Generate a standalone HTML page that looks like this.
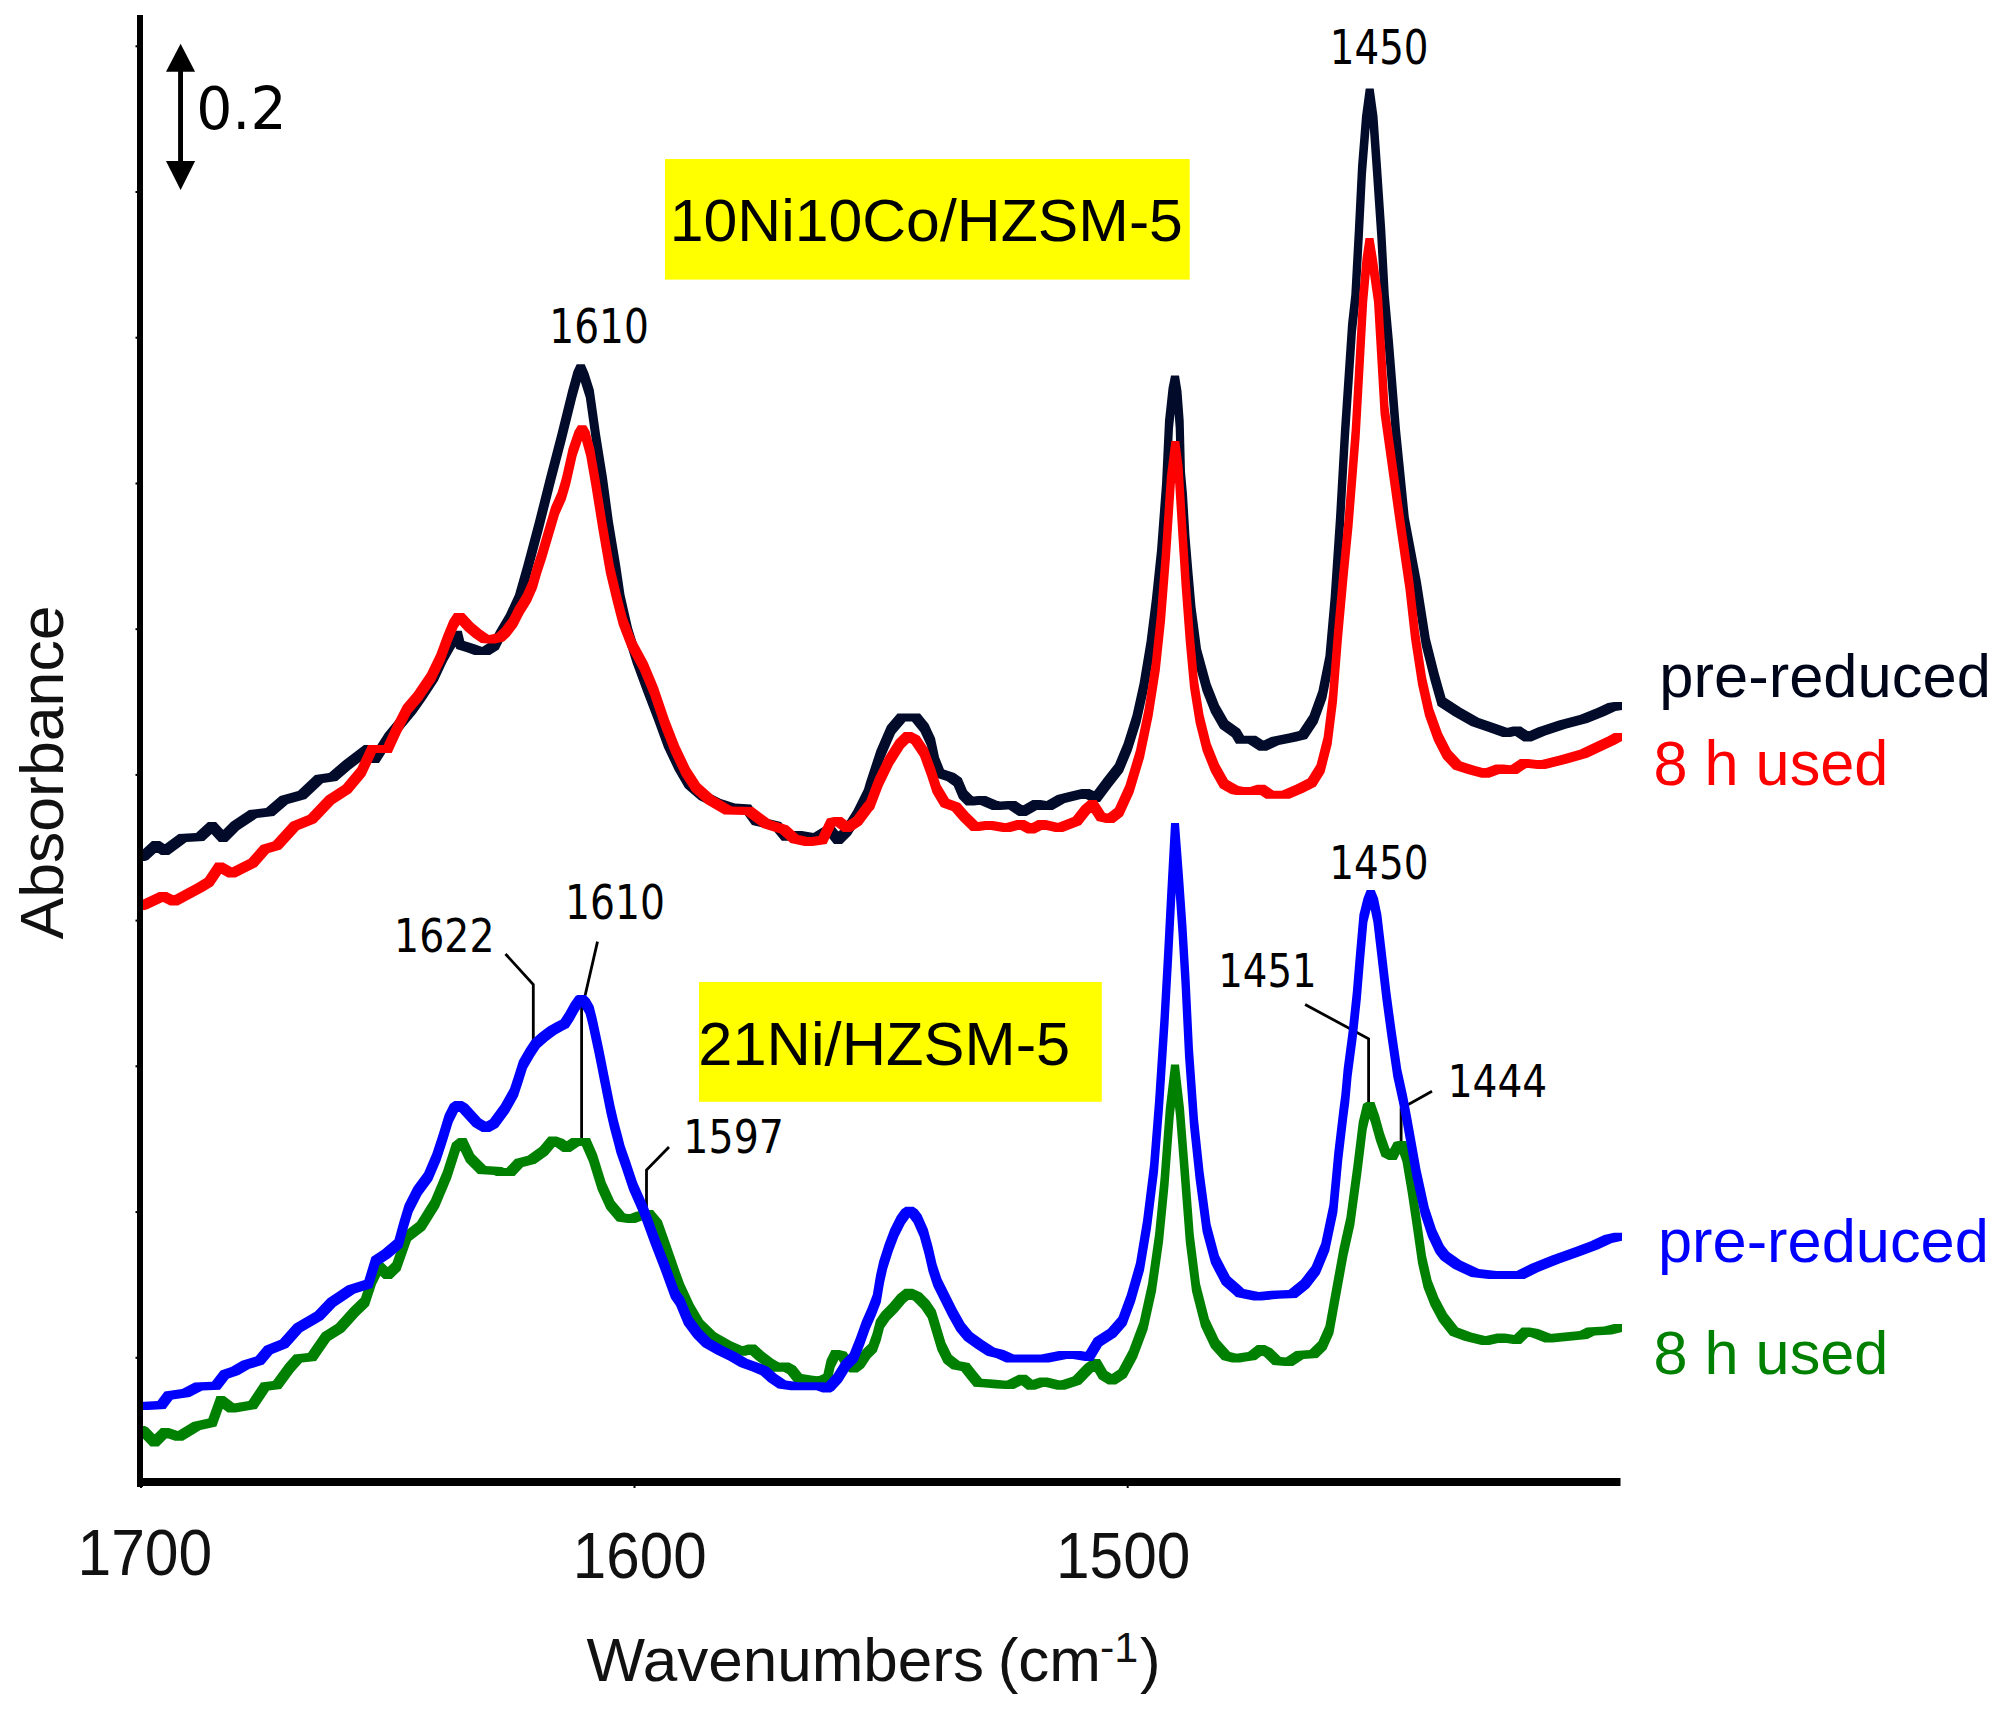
<!DOCTYPE html>
<html><head><meta charset="utf-8"><title>FTIR spectra</title>
<style>html,body{margin:0;padding:0;background:#fff}body{width:2008px;height:1711px;overflow:hidden}</style>
</head><body>
<svg width="2008" height="1711" viewBox="0 0 2008 1711" style="display:block">
<rect width="2008" height="1711" fill="#fff"/>
<rect x="665" y="159" width="524.7" height="120.6" fill="#ffff00"/>
<rect x="699" y="982" width="402.8" height="119.8" fill="#ffff00"/>
<polyline points="505.5,954 533.3,984.5 533.3,1042" fill="none" stroke="#000" stroke-width="2.8"/>
<polyline points="597.5,941.6 585.1,995.5" fill="none" stroke="#000" stroke-width="2.8"/>
<polyline points="581.6,1000 581.6,1140" fill="none" stroke="#000" stroke-width="2.8"/>
<polyline points="669,1147 646.5,1170 646.5,1212" fill="none" stroke="#000" stroke-width="2.8"/>
<polyline points="1305.1,1004.5 1368.6,1038.8 1368.6,1103" fill="none" stroke="#000" stroke-width="2.8"/>
<polyline points="1432,1091.3 1401.1,1108.5 1401.1,1142" fill="none" stroke="#000" stroke-width="2.8"/>
<path d="M137,853 140,852 148,852 148,860 145,861 137,861ZM140,852 152,841 160,841 160,849 148,860 140,860ZM152,841 160,841 169,847 169,855 161,855 152,849ZM161,847 178.6,834 186.6,834 186.6,842 169,855 161,855ZM178.6,834 196,833 204,833 204,841 186.6,842 178.6,842ZM196,833 208,822 216,822 216,830 204,841 196,841ZM208,822 216,822 227,834 227,842 219,842 208,830ZM219,834 231,822 239,822 239,830 227,842 219,842ZM231,822 249,810 257,810 257,818 239,830 231,830ZM249,810 266,808 274,808 274,816 257,818 249,818ZM266,808 280,796 288,796 288,804 274,816 266,816ZM280,796 298,791 306,791 306,799 288,804 280,804ZM298,791 315,775 323,775 323,783 306,799 298,799ZM315,775 329,773 337,773 337,781 323,783 315,783ZM329,773 343,761 351,761 351,769 337,781 329,781ZM343,761 364,745 372,745 372,753 351,769 343,769ZM364,745 372,745 379,755 379,763 371,763 364,753ZM371,755 385,733 393,733 393,741 379,763 371,763ZM385,733 408,705.3 416,705.3 416,713.3 393,741 385,741ZM408,705.3 417,692.4 425,692.4 425,700.4 416,713.3 408,713.3ZM417,692.4 429.8,673.1 437.8,673.1 437.8,681.1 425,700.4 417,700.4ZM429.8,673.1 438.8,653.8 446.8,653.8 446.8,661.8 437.8,681.1 429.8,681.1ZM438.8,653.8 446,641 454,641 454,649 446.8,661.8 438.8,661.8ZM446,641 453.8,630.8 461.8,630.8 461.8,638.8 454,649 446,649ZM453.8,630.8 461.8,630.8 464.3,641 464.3,649 456.3,649 453.8,638.8ZM456.3,641 464.3,641 474,643.9 474,651.9 466,651.9 456.3,649ZM466,643.9 474,643.9 482.3,647 482.3,655 474.3,655 466,651.9ZM474.3,647 490,647 490,655 474.3,655ZM482,647 490.7,641.5 498.7,641.5 498.7,649.5 490,655 482,655ZM490.7,641.5 496,631 504,631 504,639 498.7,649.5 490.7,649.5ZM496,631 506,614 514,614 514,622 504,639 496,639ZM506,614 515,594.4 523,594.4 523,602.4 514,622 506,622ZM515,594.4 523.3,565.2 531.3,565.2 531.3,573.2 523,602.4 515,602.4ZM523.3,565.2 535,521.3 543,521.3 543,529.3 531.3,573.2 523.3,573.2ZM535,521.3 546,477.5 554,477.5 554,485.5 543,529.3 535,529.3ZM546,477.5 557.4,433.7 565.4,433.7 565.4,441.7 554,485.5 546,485.5ZM557.4,433.7 568.3,389.8 576.3,389.8 576.3,397.8 565.4,441.7 557.4,441.7ZM568.3,389.8 573.5,371 581.5,371 581.5,379 576.3,397.8 568.3,397.8ZM573.5,371 576.7,364.2 584.7,364.2 584.7,372.2 581.5,379 573.5,379ZM576.7,364.2 584.7,364.2 588.5,373 588.5,381 580.5,381 576.7,372.2ZM580.5,373 588.5,373 593.8,389.8 593.8,397.8 585.8,397.8 580.5,381ZM585.8,389.8 593.8,389.8 600,433.7 600,441.7 592,441.7 585.8,397.8ZM592,433.7 600,433.7 607,477.5 607,485.5 599,485.5 592,441.7ZM599,477.5 607,477.5 612.9,521.3 612.9,529.3 604.9,529.3 599,485.5ZM604.9,521.3 612.9,521.3 620.2,565.2 620.2,573.2 612.2,573.2 604.9,529.3ZM612.2,565.2 620.2,565.2 624.5,594.4 624.5,602.4 616.5,602.4 612.2,573.2ZM616.5,594.4 624.5,594.4 632,627.5 632,635.5 624,635.5 616.5,602.4ZM624,627.5 632,627.5 640.7,655.6 640.7,663.6 632.7,663.6 624,635.5ZM632.7,655.6 640.7,655.6 651,683.6 651,691.6 643,691.6 632.7,663.6ZM643,683.6 651,683.6 661.8,711.7 661.8,719.7 653.8,719.7 643,691.6ZM653.8,711.7 661.8,711.7 672,739.7 672,747.7 664,747.7 653.8,719.7ZM664,739.7 672,739.7 682.8,762.5 682.8,770.5 674.8,770.5 664,747.7ZM674.8,762.5 682.8,762.5 693,780 693,788 685,788 674.8,770.5ZM685,780 693,780 707,792 707,800 699,800 685,788ZM699,792 707,792 721,799 721,807 713,807 699,800ZM713,799 721,799 735,803.5 735,811.5 727,811.5 713,807ZM727,803.5 735,803.5 751,804.6 751,812.6 743,812.6 727,811.5ZM743,804.6 751,804.6 760,817 760,825 752,825 743,812.6ZM752,817 760,817 781,822 781,830 773,830 752,825ZM773,822 781,822 789.8,832.7 789.8,840.7 781.8,840.7 773,830ZM781.8,832.7 794,831 802,831 802,839 789.8,840.7 781.8,840.7ZM794,831 802,831 819.6,834 819.6,842 811.6,842 794,839ZM811.6,834 825.6,825.6 833.6,825.6 833.6,833.6 819.6,842 811.6,842ZM825.6,825.6 833.6,825.6 842,836 842,844 834,844 825.6,833.6ZM834,836 843,827 851,827 851,835 842,844 834,844ZM843,827 853.6,810 861.6,810 861.6,818 851,835 843,835ZM853.6,810 864,789 872,789 872,797 861.6,818 853.6,818ZM864,789 866,782 874,782 874,790 872,797 864,797ZM866,782 876.5,750 884.5,750 884.5,758 874,790 866,790ZM876.5,750 887,725.7 895,725.7 895,733.7 884.5,758 876.5,758ZM887,725.7 897.5,713.5 905.5,713.5 905.5,721.5 895,733.7 887,733.7ZM897.5,713.5 920,713.5 920,721.5 897.5,721.5ZM912,713.5 920,713.5 928.5,724 928.5,732 920.5,732 912,721.5ZM920.5,724 928.5,724 935,738 935,746 927,746 920.5,732ZM927,738 935,738 939,757 939,765 931,765 927,746ZM931,757 939,757 944,769.5 944,777.5 936,777.5 931,765ZM936,769.5 944,769.5 954.6,773 954.6,781 946.6,781 936,777.5ZM946.6,773 954.6,773 961.7,778 961.7,786 953.7,786 946.6,781ZM953.7,778 961.7,778 967,790.6 967,798.6 959,798.6 953.7,786ZM959,790.6 967,790.6 974,797.6 974,805.6 966,805.6 959,798.6ZM966,797.6 978,796 986,796 986,804 974,805.6 966,805.6ZM978,796 986,796 1000,802 1000,810 992,810 978,804ZM992,802 1008,801 1016,801 1016,809 1000,810 992,810ZM1008,801 1016,801 1026.5,808 1026.5,816 1018.5,816 1008,809ZM1018.5,808 1032.5,800 1040.5,800 1040.5,808 1026.5,816 1018.5,816ZM1032.5,800 1040.5,800 1052.8,802 1052.8,810 1044.8,810 1032.5,808ZM1044.8,802 1057,795 1065,795 1065,803 1052.8,810 1044.8,810ZM1057,795 1069,792 1077,792 1077,800 1065,803 1057,803ZM1069,792 1081.6,789 1089.6,789 1089.6,797 1077,800 1069,800ZM1081.6,789 1089.6,789 1100,794 1100,802 1092,802 1081.6,797ZM1092,794 1104,778 1112,778 1112,786 1100,802 1092,802ZM1104,778 1115,764 1123,764 1123,772 1112,786 1104,786ZM1115,764 1123.7,743 1131.7,743 1131.7,751 1123,772 1115,772ZM1123.7,743 1132.5,715 1140.5,715 1140.5,723 1131.7,751 1123.7,751ZM1132.5,715 1139.5,683.6 1147.5,683.6 1147.5,691.6 1140.5,723 1132.5,723ZM1139.5,683.6 1146.5,641.6 1154.5,641.6 1154.5,649.6 1147.5,691.6 1139.5,691.6ZM1146.5,641.6 1151.8,599.5 1159.8,599.5 1159.8,607.5 1154.5,649.6 1146.5,649.6ZM1151.8,599.5 1157,550 1165,550 1165,558 1159.8,607.5 1151.8,607.5ZM1157,550 1162,483.8 1170,483.8 1170,491.8 1165,558 1157,558ZM1162,483.8 1165,420.3 1173,420.3 1173,428.3 1170,491.8 1162,491.8ZM1165,420.3 1168.5,388 1176.5,388 1176.5,396 1173,428.3 1165,428.3ZM1168.5,388 1171,375.5 1179,375.5 1179,383.5 1176.5,396 1168.5,396ZM1171,375.5 1179,375.5 1181.5,391 1181.5,399 1173.5,399 1171,383.5ZM1173.5,391 1181.5,391 1183.7,420.3 1183.7,428.3 1175.7,428.3 1173.5,399ZM1175.7,420.3 1183.7,420.3 1185,471.7 1185,479.7 1177,479.7 1175.7,428.3ZM1177,471.7 1185,471.7 1187,494 1187,502 1179,502 1177,479.7ZM1179,494 1187,494 1189.5,536 1189.5,544 1181.5,544 1179,502ZM1181.5,536 1189.5,536 1192.7,574.6 1192.7,582.6 1184.7,582.6 1181.5,544ZM1184.7,574.6 1192.7,574.6 1195.5,606.5 1195.5,614.5 1187.5,614.5 1184.7,582.6ZM1187.5,606.5 1195.5,606.5 1201,648.6 1201,656.6 1193,656.6 1187.5,614.5ZM1193,648.6 1201,648.6 1210.6,683.6 1210.6,691.6 1202.6,691.6 1193,656.6ZM1202.6,683.6 1210.6,683.6 1219,704.7 1219,712.7 1211,712.7 1202.6,691.6ZM1211,704.7 1219,704.7 1228,720.5 1228,728.5 1220,728.5 1211,712.7ZM1220,720.5 1228,720.5 1240,729 1240,737 1232,737 1220,728.5ZM1232,729 1240,729 1244,735.7 1244,743.7 1236,743.7 1232,737ZM1236,735.7 1256,735.7 1256,743.7 1236,743.7ZM1248,735.7 1256,735.7 1266.8,742.7 1266.8,750.7 1258.8,750.7 1248,743.7ZM1258.8,742.7 1271,737 1279,737 1279,745 1266.8,750.7 1258.8,750.7ZM1271,737 1288.6,733.6 1296.6,733.6 1296.6,741.6 1279,745 1271,745ZM1288.6,733.6 1299,731 1307,731 1307,739 1296.6,741.6 1288.6,741.6ZM1299,731 1309.6,715 1317.6,715 1317.6,723 1307,739 1299,739ZM1309.6,715 1318.4,690.8 1326.4,690.8 1326.4,698.8 1317.6,723 1309.6,723ZM1318.4,690.8 1325.4,655.7 1333.4,655.7 1333.4,663.7 1326.4,698.8 1318.4,698.8ZM1325.4,655.7 1330.7,596 1338.7,596 1338.7,604 1333.4,663.7 1325.4,663.7ZM1330.7,596 1336,517 1344,517 1344,525 1338.7,604 1330.7,604ZM1336,517 1341,429 1349,429 1349,437 1344,525 1336,525ZM1341,429 1348,324 1356,324 1356,332 1349,437 1341,437ZM1348,324 1351.3,294.6 1359.3,294.6 1359.3,302.6 1356,332 1348,332ZM1351.3,294.6 1354.8,230 1362.8,230 1362.8,238 1359.3,302.6 1351.3,302.6ZM1354.8,230 1358,166 1366,166 1366,174 1362.8,238 1354.8,238ZM1358,166 1362,116 1370,116 1370,124 1366,174 1358,174ZM1362,116 1365.7,88.5 1373.7,88.5 1373.7,96.5 1370,124 1362,124ZM1365.7,88.5 1373.7,88.5 1377.5,116 1377.5,124 1369.5,124 1365.7,96.5ZM1369.5,116 1377.5,116 1381,166 1381,174 1373,174 1369.5,124ZM1373,166 1381,166 1385.3,230 1385.3,238 1377.3,238 1373,174ZM1377.3,230 1385.3,230 1388.8,294.6 1388.8,302.6 1380.8,302.6 1377.3,238ZM1380.8,294.6 1388.8,294.6 1393,341.6 1393,349.6 1385,349.6 1380.8,302.6ZM1385,341.6 1393,341.6 1400,429 1400,437 1392,437 1385,349.6ZM1392,429 1400,429 1408.8,517 1408.8,525 1400.8,525 1392,437ZM1400.8,517 1408.8,517 1421,582 1421,590 1413,590 1400.8,525ZM1413,582 1421,582 1429.8,638 1429.8,646 1421.8,646 1413,590ZM1421.8,638 1429.8,638 1438.6,673 1438.6,681 1430.6,681 1421.8,646ZM1430.6,673 1438.6,673 1445.6,697.8 1445.6,705.8 1437.6,705.8 1430.6,681ZM1437.6,697.8 1445.6,697.8 1461.4,708 1461.4,716 1453.4,716 1437.6,705.8ZM1453.4,708 1461.4,708 1479,718 1479,726 1471,726 1453.4,716ZM1471,718 1479,718 1496.5,724 1496.5,732 1488.5,732 1471,726ZM1488.5,724 1496.5,724 1510.5,729 1510.5,737 1502.5,737 1488.5,732ZM1502.5,729 1513,726.5 1521,726.5 1521,734.5 1510.5,737 1502.5,737ZM1513,726.5 1521,726.5 1531.5,733.6 1531.5,741.6 1523.5,741.6 1513,734.5ZM1523.5,733.6 1537.5,727.6 1545.5,727.6 1545.5,735.6 1531.5,741.6 1523.5,741.6ZM1537.5,727.6 1558.6,720.6 1566.6,720.6 1566.6,728.6 1545.5,735.6 1537.5,735.6ZM1558.6,720.6 1579.6,715 1587.6,715 1587.6,723 1566.6,728.6 1558.6,728.6ZM1579.6,715 1597,708 1605,708 1605,716 1587.6,723 1579.6,723ZM1597,708 1607.7,703 1615.7,703 1615.7,711 1605,716 1597,716ZM1607.7,703 1614,702 1622,702 1622,710 1615.7,711 1607.7,711Z" fill="#020c2a"/>
<path d="M137,902 140,901 148,901 148,909 145,910 137,910ZM140,901 159,892 167,892 167,900 148,909 140,909ZM159,892 167,892 178,897.5 178,905.5 170,905.5 159,900ZM170,897.5 196,883.5 204,883.5 204,891.5 178,905.5 170,905.5ZM196,883.5 205,878 213,878 213,886 204,891.5 196,891.5ZM205,878 215.4,862.5 223.4,862.5 223.4,870.5 213,886 205,886ZM215.4,862.5 223.4,862.5 235.7,869.5 235.7,877.5 227.7,877.5 215.4,870.5ZM227.7,869.5 248.7,859 256.7,859 256.7,867 235.7,877.5 227.7,877.5ZM248.7,859 261,845 269,845 269,853 256.7,867 248.7,867ZM261,845 273,841.5 281,841.5 281,849.5 269,853 261,853ZM273,841.5 290.8,822 298.8,822 298.8,830 281,849.5 273,849.5ZM290.8,822 308,815 316,815 316,823 298.8,830 290.8,830ZM308,815 326,796 334,796 334,804 316,823 308,823ZM326,796 343,785 351,785 351,793 334,804 326,804ZM343,785 357.4,767.8 365.4,767.8 365.4,775.8 351,793 343,793ZM357.4,767.8 368,745 376,745 376,753 365.4,775.8 357.4,775.8ZM368,745 391.7,745 391.7,753 368,753ZM383.7,745 392.5,725.7 400.5,725.7 400.5,733.7 391.7,753 383.7,753ZM392.5,725.7 403,705.3 411,705.3 411,713.3 400.5,733.7 392.5,733.7ZM403,705.3 413.9,692.4 421.9,692.4 421.9,700.4 411,713.3 403,713.3ZM413.9,692.4 427.1,673.1 435.1,673.1 435.1,681.1 421.9,700.4 413.9,700.4ZM427.1,673.1 436.4,653.8 444.4,653.8 444.4,661.8 435.1,681.1 427.1,681.1ZM436.4,653.8 443.5,634.6 451.5,634.6 451.5,642.6 444.4,661.8 436.4,661.8ZM443.5,634.6 449.5,620 457.5,620 457.5,628 451.5,642.6 443.5,642.6ZM449.5,620 454.2,613 462.2,613 462.2,621 457.5,628 449.5,628ZM454.2,613 464,613 464,621 454.2,621ZM456,613 464,613 473.3,623 473.3,631 465.3,631 456,621ZM465.3,623 473.3,623 481.7,630 481.7,638 473.7,638 465.3,631ZM473.7,630 481.7,630 489,635 489,643 481,643 473.7,638ZM481,635 489,635 495,635.5 495,643.5 487,643.5 481,643ZM487,635.5 496,633.5 504,633.5 504,641.5 495,643.5 487,643.5ZM496,633.5 501.5,628.5 509.5,628.5 509.5,636.5 504,641.5 496,641.5ZM501.5,628.5 509.1,618.6 517.1,618.6 517.1,626.6 509.5,636.5 501.5,636.5ZM509.1,618.6 515.2,606.5 523.2,606.5 523.2,614.5 517.1,626.6 509.1,626.6ZM515.2,606.5 522.8,594.3 530.8,594.3 530.8,602.3 523.2,614.5 515.2,614.5ZM522.8,594.3 528.9,580.6 536.9,580.6 536.9,588.6 530.8,602.3 522.8,602.3ZM528.9,580.6 533,566.2 541,566.2 541,574.2 536.9,588.6 528.9,588.6ZM533,566.2 538,551 546,551 546,559 541,574.2 533,574.2ZM538,551 542.5,535.8 550.5,535.8 550.5,543.8 546,559 538,559ZM542.5,535.8 551.1,506.7 559.1,506.7 559.1,514.7 550.5,543.8 542.5,543.8ZM551.1,506.7 557.7,492.1 565.7,492.1 565.7,500.1 559.1,514.7 551.1,514.7ZM557.7,492.1 562,477.5 570,477.5 570,485.5 565.7,500.1 557.7,500.1ZM562,477.5 568.6,448.3 576.6,448.3 576.6,456.3 570,485.5 562,485.5ZM568.6,448.3 574.5,431 582.5,431 582.5,439 576.6,456.3 568.6,456.3ZM574.5,431 578.1,425.2 586.1,425.2 586.1,433.2 582.5,439 574.5,439ZM578.1,425.2 586.1,425.2 589.5,431 589.5,439 581.5,439 578.1,433.2ZM581.5,431 589.5,431 594.2,448.3 594.2,456.3 586.2,456.3 581.5,439ZM586.2,448.3 594.2,448.3 599.3,477.5 599.3,485.5 591.3,485.5 586.2,456.3ZM591.3,477.5 599.3,477.5 606.3,521.3 606.3,529.3 598.3,529.3 591.3,485.5ZM598.3,521.3 606.3,521.3 613.9,565.2 613.9,573.2 605.9,573.2 598.3,529.3ZM605.9,565.2 613.9,565.2 620.9,594.4 620.9,602.4 612.9,602.4 605.9,573.2ZM612.9,594.4 620.9,594.4 626.7,617 626.7,625 618.7,625 612.9,602.4ZM618.7,617 626.7,617 635.5,639.8 635.5,647.8 627.5,647.8 618.7,625ZM627.5,639.8 635.5,639.8 647.8,662.6 647.8,670.6 639.8,670.6 627.5,647.8ZM639.8,662.6 647.8,662.6 658,687 658,695 650,695 639.8,670.6ZM650,687 658,687 668.8,718.7 668.8,726.7 660.8,726.7 650,695ZM660.8,718.7 668.8,718.7 679,745 679,753 671,753 660.8,726.7ZM671,745 679,745 689.8,767.8 689.8,775.8 681.8,775.8 671,753ZM681.8,767.8 689.8,767.8 700,783.6 700,791.6 692,791.6 681.8,775.8ZM692,783.6 700,783.6 714,796 714,804 706,804 692,791.6ZM706,796 714,796 732,806.4 732,814.4 724,814.4 706,804ZM724,806.4 732,806.4 753,807 753,815 745,815 724,814.4ZM745,807 753,807 770.5,820 770.5,828 762.5,828 745,815ZM762.5,820 770.5,820 788,825.6 788,833.6 780,833.6 762.5,828ZM780,825.6 788,825.6 798.5,835 798.5,843 790.5,843 780,833.6ZM790.5,835 798.5,835 812.5,838 812.5,846 804.5,846 790.5,843ZM804.5,838 818.6,836 826.6,836 826.6,844 812.5,846 804.5,846ZM818.6,836 827,818.6 835,818.6 835,826.6 826.6,844 818.6,844ZM827,818.6 834,817 842,817 842,825 835,826.6 827,826.6ZM834,817 842,817 851,824 851,832 843,832 834,825ZM843,824 853.6,817 861.6,817 861.6,825 851,832 843,832ZM853.6,817 864,803 872,803 872,811 861.6,825 853.6,825ZM864,803 866,801 874,801 874,809 872,811 864,811ZM866,801 874.8,778 882.8,778 882.8,786 874,809 866,809ZM874.8,778 885,757 893,757 893,765 882.8,786 874.8,786ZM885,757 895.8,740 903.8,740 903.8,748 893,765 885,765ZM895.8,740 904,732 912,732 912,740 903.8,748 895.8,748ZM904,732 912,732 919.6,736 919.6,744 911.6,744 904,740ZM911.6,736 919.6,736 928,748.5 928,756.5 920,756.5 911.6,744ZM920,748.5 928,748.5 935,767.8 935,775.8 927,775.8 920,756.5ZM927,767.8 935,767.8 940.6,785 940.6,793 932.6,793 927,775.8ZM932.6,785 940.6,785 949,799 949,807 941,807 932.6,793ZM941,799 949,799 960,803 960,811 952,811 941,807ZM952,803 960,803 968.7,813 968.7,821 960.7,821 952,811ZM960.7,813 968.7,813 979,823 979,831 971,831 960.7,821ZM971,823 985,821 993,821 993,829 979,831 971,831ZM985,821 993,821 1010.7,824 1010.7,832 1002.7,832 985,829ZM1002.7,824 1016.8,820 1024.8,820 1024.8,828 1010.7,832 1002.7,832ZM1016.8,820 1024.8,820 1035,825.6 1035,833.6 1027,833.6 1016.8,828ZM1027,825.6 1037.8,820 1045.8,820 1045.8,828 1035,833.6 1027,833.6ZM1037.8,820 1045.8,820 1063,824 1063,832 1055,832 1037.8,828ZM1055,824 1073,817 1081,817 1081,825 1063,832 1055,832ZM1073,817 1081.6,806 1089.6,806 1089.6,814 1081,825 1073,825ZM1081.6,806 1088.6,800 1096.6,800 1096.6,808 1089.6,814 1081.6,814ZM1088.6,800 1096.6,800 1105,813 1105,821 1097,821 1088.6,808ZM1097,813 1105,813 1114,815 1114,823 1106,823 1097,821ZM1106,815 1115,808 1123,808 1123,816 1114,823 1106,823ZM1115,808 1125.5,785 1133.5,785 1133.5,793 1123,816 1115,816ZM1125.5,785 1136,750 1144,750 1144,758 1133.5,793 1125.5,793ZM1136,750 1144.7,708 1152.7,708 1152.7,716 1144,758 1136,758ZM1144.7,708 1151.8,662.6 1159.8,662.6 1159.8,670.6 1152.7,716 1144.7,716ZM1151.8,662.6 1157,613.5 1165,613.5 1165,621.5 1159.8,670.6 1151.8,670.6ZM1157,613.5 1162,550 1170,550 1170,558 1165,621.5 1157,621.5ZM1162,550 1166.8,476.8 1174.8,476.8 1174.8,484.8 1170,558 1162,558ZM1166.8,476.8 1171.3,441 1179.3,441 1179.3,449 1174.8,484.8 1166.8,484.8ZM1171.3,441 1179.3,441 1182.6,466 1182.6,474 1174.6,474 1171.3,449ZM1174.6,466 1182.6,466 1186,522 1186,530 1178,530 1174.6,474ZM1178,522 1186,522 1189.6,578.5 1189.6,586.5 1181.6,586.5 1178,530ZM1181.6,578.5 1189.6,578.5 1193.8,634.6 1193.8,642.6 1185.8,642.6 1181.6,586.5ZM1185.8,634.6 1193.8,634.6 1198,680 1198,688 1190,688 1185.8,642.6ZM1190,680 1198,680 1203.6,715 1203.6,723 1195.6,723 1190,688ZM1195.6,715 1203.6,715 1210.6,743 1210.6,751 1202.6,751 1195.6,723ZM1202.6,743 1210.6,743 1219,764 1219,772 1211,772 1202.6,751ZM1211,764 1219,764 1228,780 1228,788 1220,788 1211,772ZM1220,780 1228,780 1238.6,786 1238.6,794 1230.6,794 1220,788ZM1230.6,786 1238.6,786 1244,787 1244,795 1236,795 1230.6,794ZM1236,787 1258,787 1258,795 1236,795ZM1250,787 1257,784.8 1265,784.8 1265,792.8 1258,795 1250,795ZM1257,784.8 1265,784.8 1273.8,790.7 1273.8,798.7 1265.8,798.7 1257,792.8ZM1265.8,790.7 1289.6,790.7 1289.6,798.7 1265.8,798.7ZM1281.6,790.7 1295.6,784.8 1303.6,784.8 1303.6,792.8 1289.6,798.7 1281.6,798.7ZM1295.6,784.8 1307.9,778.5 1315.9,778.5 1315.9,786.5 1303.6,792.8 1295.6,792.8ZM1307.9,778.5 1316.6,764.4 1324.6,764.4 1324.6,772.4 1315.9,786.5 1307.9,786.5ZM1316.6,764.4 1323.7,736.4 1331.7,736.4 1331.7,744.4 1324.6,772.4 1316.6,772.4ZM1323.7,736.4 1329,694 1337,694 1337,702 1331.7,744.4 1323.7,744.4ZM1329,694 1334,631 1342,631 1342,639 1337,702 1329,702ZM1334,631 1339.4,571.6 1347.4,571.6 1347.4,579.6 1342,639 1334,639ZM1339.4,571.6 1344.7,517 1352.7,517 1352.7,525 1347.4,579.6 1339.4,579.6ZM1344.7,517 1351.7,429 1359.7,429 1359.7,437 1352.7,525 1344.7,525ZM1351.7,429 1353,406 1361,406 1361,414 1359.7,437 1351.7,437ZM1353,406 1359.2,294.6 1367.2,294.6 1367.2,302.6 1361,414 1353,414ZM1359.2,294.6 1362.5,258 1370.5,258 1370.5,266 1367.2,302.6 1359.2,302.6ZM1362.5,258 1365.5,238 1373.5,238 1373.5,246 1370.5,266 1362.5,266ZM1365.5,238 1373.5,238 1376.8,258 1376.8,266 1368.8,266 1365.5,246ZM1368.8,258 1376.8,258 1382,294.6 1382,302.6 1374,302.6 1368.8,266ZM1374,294.6 1382,294.6 1388.5,406 1388.5,414 1380.5,414 1374,302.6ZM1380.5,406 1388.5,406 1404,517 1404,525 1396,525 1380.5,414ZM1396,517 1404,517 1413.5,582 1413.5,590 1405.5,590 1396,525ZM1405.5,582 1413.5,582 1419,631 1419,639 1411,639 1405.5,590ZM1411,631 1419,631 1426,676.8 1426,684.8 1418,684.8 1411,639ZM1418,676.8 1426,676.8 1433,708 1433,716 1425,716 1418,684.8ZM1425,708 1433,708 1442,733 1442,741 1434,741 1425,716ZM1434,733 1442,733 1451,750.4 1451,758.4 1443,758.4 1434,741ZM1443,750.4 1451,750.4 1461.4,761.6 1461.4,769.6 1453.4,769.6 1443,758.4ZM1453.4,761.6 1461.4,761.6 1475.4,766 1475.4,774 1467.4,774 1453.4,769.6ZM1467.4,766 1475.4,766 1489.4,769.7 1489.4,777.7 1481.4,777.7 1467.4,774ZM1481.4,769.7 1495.5,764.4 1503.5,764.4 1503.5,772.4 1489.4,777.7 1481.4,777.7ZM1495.5,764.4 1503.5,764.4 1517.5,766 1517.5,774 1509.5,774 1495.5,772.4ZM1509.5,766 1520,759 1528,759 1528,767 1517.5,774 1509.5,774ZM1520,759 1528,759 1545.5,761 1545.5,769 1537.5,769 1520,767ZM1537.5,761 1558.6,755.7 1566.6,755.7 1566.6,763.7 1545.5,769 1537.5,769ZM1558.6,755.7 1579.6,749.7 1587.6,749.7 1587.6,757.7 1566.6,763.7 1558.6,763.7ZM1579.6,749.7 1597,741.6 1605,741.6 1605,749.6 1587.6,757.7 1579.6,757.7ZM1597,741.6 1607.7,736.4 1615.7,736.4 1615.7,744.4 1605,749.6 1597,749.6ZM1607.7,736.4 1614,733 1622,733 1622,741 1615.7,744.4 1607.7,744.4Z" fill="#ff0000"/>
<path d="M137,1426 145,1426 148,1427.4 148,1435.4 140,1435.4 137,1434ZM140,1427.4 148,1427.4 158.5,1438.6 158.5,1446.6 150.5,1446.6 140,1435.4ZM150.5,1438.6 161,1428 169,1428 169,1436 158.5,1446.6 150.5,1446.6ZM161,1428 169,1428 183,1432.7 183,1440.7 175,1440.7 161,1436ZM175,1432.7 192.6,1422 200.6,1422 200.6,1430 183,1440.7 175,1440.7ZM192.6,1422 208.4,1418.6 216.4,1418.6 216.4,1426.6 200.6,1430 192.6,1430ZM208.4,1418.6 216.5,1396 224.5,1396 224.5,1404 216.4,1426.6 208.4,1426.6ZM216.5,1396 224.5,1396 235.7,1404.6 235.7,1412.6 227.7,1412.6 216.5,1404ZM227.7,1404.6 248.7,1401 256.7,1401 256.7,1409 235.7,1412.6 227.7,1412.6ZM248.7,1401 261,1382.5 269,1382.5 269,1390.5 256.7,1409 248.7,1409ZM261,1382.5 273,1381 281,1381 281,1389 269,1390.5 261,1390.5ZM273,1381 285.5,1364 293.5,1364 293.5,1372 281,1389 273,1389ZM285.5,1364 294,1354.5 302,1354.5 302,1362.5 293.5,1372 285.5,1372ZM294,1354.5 308,1353 316,1353 316,1361 302,1362.5 294,1362.5ZM308,1353 322,1332.7 330,1332.7 330,1340.7 316,1361 308,1361ZM322,1332.7 336,1324 344,1324 344,1332 330,1340.7 322,1340.7ZM336,1324 350.4,1308 358.4,1308 358.4,1316 344,1332 336,1332ZM350.4,1308 361,1297.7 369,1297.7 369,1305.7 358.4,1316 350.4,1316ZM361,1297.7 368,1276.6 376,1276.6 376,1284.6 369,1305.7 361,1305.7ZM368,1276.6 375,1262.6 383,1262.6 383,1270.6 376,1284.6 368,1284.6ZM375,1262.6 383,1262.6 391.7,1271 391.7,1279 383.7,1279 375,1270.6ZM383.7,1271 392.5,1262.6 400.5,1262.6 400.5,1270.6 391.7,1279 383.7,1279ZM392.5,1262.6 403,1232.8 411,1232.8 411,1240.8 400.5,1270.6 392.5,1270.6ZM403,1232.8 417,1222 425,1222 425,1230 411,1240.8 403,1240.8ZM417,1222 431,1199.5 439,1199.5 439,1207.5 425,1230 417,1230ZM431,1199.5 443,1171 451,1171 451,1179 439,1207.5 431,1207.5ZM443,1171 452,1143 460,1143 460,1151 451,1179 443,1179ZM452,1143 458.4,1138 466.4,1138 466.4,1146 460,1151 452,1151ZM458.4,1138 466.4,1138 474,1154 474,1162 466,1162 458.4,1146ZM466,1154 474,1154 486,1166 486,1174 478,1174 466,1162ZM478,1166 486,1166 502,1167 502,1175 494,1175 478,1174ZM494,1167 502,1167 504,1168 504,1176 496,1176 494,1175ZM496,1168 514.5,1168 514.5,1176 496,1176ZM506.5,1168 515,1159 523,1159 523,1167 514.5,1176 506.5,1176ZM515,1159 527.6,1155.7 535.6,1155.7 535.6,1163.7 523,1167 515,1167ZM527.6,1155.7 539.8,1147 547.8,1147 547.8,1155 535.6,1163.7 527.6,1163.7ZM539.8,1147 548.6,1136.4 556.6,1136.4 556.6,1144.4 547.8,1155 539.8,1155ZM548.6,1136.4 556.6,1136.4 563.6,1139 563.6,1147 555.6,1147 548.6,1144.4ZM555.6,1139 563.6,1139 570.6,1144 570.6,1152 562.6,1152 555.6,1147ZM562.6,1144 571.4,1138 579.4,1138 579.4,1146 570.6,1152 562.6,1152ZM571.4,1138 590,1138 590,1146 571.4,1146ZM582,1138 590,1138 597,1154 597,1162 589,1162 582,1146ZM589,1154 597,1154 605.7,1182 605.7,1190 597.7,1190 589,1162ZM597.7,1182 605.7,1182 614.4,1201 614.4,1209 606.4,1209 597.7,1190ZM606.4,1201 614.4,1201 625,1213.5 625,1221.5 617,1221.5 606.4,1209ZM617,1213.5 625,1213.5 635.5,1215 635.5,1223 627.5,1223 617,1221.5ZM627.5,1215 636,1211.8 644,1211.8 644,1219.8 635.5,1223 627.5,1223ZM636,1211.8 645,1210 653,1210 653,1218 644,1219.8 636,1219.8ZM645,1210 653,1210 661.8,1220.5 661.8,1228.5 653.8,1228.5 645,1218ZM653.8,1220.5 661.8,1220.5 670.5,1245 670.5,1253 662.5,1253 653.8,1228.5ZM662.5,1245 670.5,1245 679,1269.6 679,1277.6 671,1277.6 662.5,1253ZM671,1269.6 679,1269.6 684,1283.2 684,1291.2 676,1291.2 671,1277.6ZM676,1283.2 684,1283.2 693.6,1304 693.6,1312 685.6,1312 676,1291.2ZM685.6,1304 693.6,1304 703,1319.9 703,1327.9 695,1327.9 685.6,1312ZM695,1319.9 703,1319.9 715.9,1332.6 715.9,1340.6 707.9,1340.6 695,1327.9ZM707.9,1332.6 715.9,1332.6 731.8,1341.4 731.8,1349.4 723.8,1349.4 707.9,1340.6ZM723.8,1341.4 731.8,1341.4 746,1347.8 746,1355.8 738,1355.8 723.8,1349.4ZM738,1347.8 747.7,1344.6 755.7,1344.6 755.7,1352.6 746,1355.8 738,1355.8ZM747.7,1344.6 755.7,1344.6 763.7,1351.7 763.7,1359.7 755.7,1359.7 747.7,1352.6ZM755.7,1351.7 763.7,1351.7 773.2,1358.9 773.2,1366.9 765.2,1366.9 755.7,1359.7ZM765.2,1358.9 773.2,1358.9 781.2,1363.7 781.2,1371.7 773.2,1371.7 765.2,1366.9ZM773.2,1363.7 781.2,1362.6 789.2,1362.6 789.2,1370.6 781.2,1371.7 773.2,1371.7ZM781.2,1362.6 789.2,1362.6 795.6,1366 795.6,1374 787.6,1374 781.2,1370.6ZM787.6,1366 795.6,1366 801.9,1374 801.9,1382 793.9,1382 787.6,1374ZM793.9,1374 801.9,1374 811.5,1375.6 811.5,1383.6 803.5,1383.6 793.9,1382ZM803.5,1375.6 811.5,1375.6 824.2,1377.2 824.2,1385.2 816.2,1385.2 803.5,1383.6ZM816.2,1377.2 823.4,1374 831.4,1374 831.4,1382 824.2,1385.2 816.2,1385.2ZM823.4,1374 826.6,1359.7 834.6,1359.7 834.6,1367.7 831.4,1382 823.4,1382ZM826.6,1359.7 831.4,1350 839.4,1350 839.4,1358 834.6,1367.7 826.6,1367.7ZM831.4,1350 839.4,1350 846.5,1351.7 846.5,1359.7 838.5,1359.7 831.4,1358ZM838.5,1351.7 846.5,1351.7 851.3,1359.7 851.3,1367.7 843.3,1367.7 838.5,1359.7ZM843.3,1359.7 851.3,1359.7 857.7,1364.5 857.7,1372.5 849.7,1372.5 843.3,1367.7ZM849.7,1364.5 856,1359.7 864,1359.7 864,1367.7 857.7,1372.5 849.7,1372.5ZM856,1359.7 862.4,1350 870.4,1350 870.4,1358 864,1367.7 856,1367.7ZM862.4,1350 868.8,1343.8 876.8,1343.8 876.8,1351.8 870.4,1358 862.4,1358ZM868.8,1343.8 872.8,1332.6 880.8,1332.6 880.8,1340.6 876.8,1351.8 868.8,1351.8ZM872.8,1332.6 876,1319.9 884,1319.9 884,1327.9 880.8,1340.6 872.8,1340.6ZM876,1319.9 881.6,1311.9 889.6,1311.9 889.6,1319.9 884,1327.9 876,1327.9ZM881.6,1311.9 889.5,1303.9 897.5,1303.9 897.5,1311.9 889.6,1319.9 881.6,1319.9ZM889.5,1303.9 897.5,1294.4 905.5,1294.4 905.5,1302.4 897.5,1311.9 889.5,1311.9ZM897.5,1294.4 904.7,1288.8 912.7,1288.8 912.7,1296.8 905.5,1302.4 897.5,1302.4ZM904.7,1288.8 912.7,1288.8 921.5,1292.8 921.5,1300.8 913.5,1300.8 904.7,1296.8ZM913.5,1292.8 921.5,1292.8 929.4,1300.7 929.4,1308.7 921.4,1308.7 913.5,1300.8ZM921.4,1300.7 929.4,1300.7 935.8,1310.3 935.8,1318.3 927.8,1318.3 921.4,1308.7ZM927.8,1310.3 935.8,1310.3 940.6,1326.2 940.6,1334.2 932.6,1334.2 927.8,1318.3ZM932.6,1326.2 940.6,1326.2 945.4,1342.2 945.4,1350.2 937.4,1350.2 932.6,1334.2ZM937.4,1342.2 945.4,1342.2 951.7,1354.9 951.7,1362.9 943.7,1362.9 937.4,1350.2ZM943.7,1354.9 951.7,1354.9 959.7,1361.3 959.7,1369.3 951.7,1369.3 943.7,1362.9ZM951.7,1361.3 959.7,1361.3 969.3,1362.9 969.3,1370.9 961.3,1370.9 951.7,1369.3ZM961.3,1362.9 969.3,1362.9 975.6,1370.9 975.6,1378.9 967.6,1378.9 961.3,1370.9ZM967.6,1370.9 975.6,1370.9 982,1378.8 982,1386.8 974,1386.8 967.6,1378.9ZM974,1378.8 982,1378.8 993.2,1379.6 993.2,1387.6 985.2,1387.6 974,1386.8ZM985.2,1379.6 993.2,1379.6 1004,1380.4 1004,1388.4 996,1388.4 985.2,1387.6ZM996,1380.4 1004,1380.4 1014,1381 1014,1389 1006,1389 996,1388.4ZM1006,1381 1018.5,1374.8 1026.5,1374.8 1026.5,1382.8 1014,1389 1006,1389ZM1018.5,1374.8 1026.5,1374.8 1035,1381.8 1035,1389.8 1027,1389.8 1018.5,1382.8ZM1027,1381.8 1039.6,1377.6 1047.6,1377.6 1047.6,1385.6 1035,1389.8 1027,1389.8ZM1039.6,1377.6 1047.6,1377.6 1065,1381.8 1065,1389.8 1057,1389.8 1039.6,1385.6ZM1057,1381.8 1072.9,1376.6 1080.9,1376.6 1080.9,1384.6 1065,1389.8 1057,1389.8ZM1072.9,1376.6 1085,1364 1093,1364 1093,1372 1080.9,1384.6 1072.9,1384.6ZM1085,1364 1092,1359 1100,1359 1100,1367 1093,1372 1085,1372ZM1092,1359 1100,1359 1107,1371 1107,1379 1099,1379 1092,1367ZM1099,1371 1107,1371 1116,1376.6 1116,1384.6 1108,1384.6 1099,1379ZM1108,1376.6 1118.5,1369.5 1126.5,1369.5 1126.5,1377.5 1116,1384.6 1108,1384.6ZM1118.5,1369.5 1129,1350 1137,1350 1137,1358 1126.5,1377.5 1118.5,1377.5ZM1129,1350 1139.5,1322 1147.5,1322 1147.5,1330 1137,1358 1129,1358ZM1139.5,1322 1148,1283.6 1156,1283.6 1156,1291.6 1147.5,1330 1139.5,1330ZM1148,1283.6 1155,1234.5 1163,1234.5 1163,1242.5 1156,1291.6 1148,1291.6ZM1155,1234.5 1160.5,1178.5 1168.5,1178.5 1168.5,1186.5 1163,1242.5 1155,1242.5ZM1160.5,1178.5 1165.8,1108 1173.8,1108 1173.8,1116 1168.5,1186.5 1160.5,1186.5ZM1165.8,1108 1171,1064.5 1179,1064.5 1179,1072.5 1173.8,1116 1165.8,1116ZM1171,1064.5 1179,1064.5 1184,1108 1184,1116 1176,1116 1171,1072.5ZM1176,1108 1184,1108 1189,1171.5 1189,1179.5 1181,1179.5 1176,1116ZM1181,1171.5 1189,1171.5 1193.8,1234.5 1193.8,1242.5 1185.8,1242.5 1181,1179.5ZM1185.8,1234.5 1193.8,1234.5 1200,1283.6 1200,1291.6 1192,1291.6 1185.8,1242.5ZM1192,1283.6 1200,1283.6 1209,1318.7 1209,1326.7 1201,1326.7 1192,1291.6ZM1201,1318.7 1209,1318.7 1219,1339.7 1219,1347.7 1211,1347.7 1201,1326.7ZM1211,1339.7 1219,1339.7 1230,1352 1230,1360 1222,1360 1211,1347.7ZM1222,1352 1230,1352 1240,1354.5 1240,1362.5 1232,1362.5 1222,1360ZM1232,1354.5 1236,1353.8 1244,1353.8 1244,1361.8 1240,1362.5 1232,1362.5ZM1236,1353.8 1248,1352 1256,1352 1256,1360 1244,1361.8 1236,1361.8ZM1248,1352 1257,1345 1265,1345 1265,1353 1256,1360 1248,1360ZM1257,1345 1265,1345 1272,1348.5 1272,1356.5 1264,1356.5 1257,1353ZM1264,1348.5 1272,1348.5 1280.8,1357 1280.8,1365 1272.8,1365 1264,1356.5ZM1272.8,1357 1280.8,1357 1293,1358 1293,1366 1285,1366 1272.8,1365ZM1285,1358 1295.6,1351 1303.6,1351 1303.6,1359 1293,1366 1285,1366ZM1295.6,1351 1309.6,1350 1317.6,1350 1317.6,1358 1303.6,1359 1295.6,1359ZM1309.6,1350 1318.4,1341.5 1326.4,1341.5 1326.4,1349.5 1317.6,1358 1309.6,1358ZM1318.4,1341.5 1325.4,1325.7 1333.4,1325.7 1333.4,1333.7 1326.4,1349.5 1318.4,1349.5ZM1325.4,1325.7 1332.4,1287 1340.4,1287 1340.4,1295 1333.4,1333.7 1325.4,1333.7ZM1332.4,1287 1339.4,1248.6 1347.4,1248.6 1347.4,1256.6 1340.4,1295 1332.4,1295ZM1339.4,1248.6 1346.4,1217 1354.4,1217 1354.4,1225 1347.4,1256.6 1339.4,1256.6ZM1346.4,1217 1353.5,1164.4 1361.5,1164.4 1361.5,1172.4 1354.4,1225 1346.4,1225ZM1353.5,1164.4 1358.7,1122 1366.7,1122 1366.7,1130 1361.5,1172.4 1353.5,1172.4ZM1358.7,1122 1363,1104 1371,1104 1371,1112 1366.7,1130 1358.7,1130ZM1363,1104 1366.4,1102 1374.4,1102 1374.4,1110 1371,1112 1363,1112ZM1366.4,1102 1374.4,1102 1379,1115 1379,1123 1371,1123 1366.4,1110ZM1371,1115 1379,1115 1384,1133 1384,1141 1376,1141 1371,1123ZM1376,1133 1384,1133 1389.5,1148.6 1389.5,1156.6 1381.5,1156.6 1376,1141ZM1381.5,1148.6 1389.5,1148.6 1396.5,1152 1396.5,1160 1388.5,1160 1381.5,1156.6ZM1388.5,1152 1393.8,1142 1401.8,1142 1401.8,1150 1396.5,1160 1388.5,1160ZM1393.8,1142 1398,1141 1406,1141 1406,1149 1401.8,1150 1393.8,1150ZM1398,1141 1406,1141 1410.5,1154 1410.5,1162 1402.5,1162 1398,1149ZM1402.5,1154 1410.5,1154 1415.8,1185.5 1415.8,1193.5 1407.8,1193.5 1402.5,1162ZM1407.8,1185.5 1415.8,1185.5 1421,1220.5 1421,1228.5 1413,1228.5 1407.8,1193.5ZM1413,1220.5 1421,1220.5 1426,1255.6 1426,1263.6 1418,1263.6 1413,1228.5ZM1418,1255.6 1426,1255.6 1431.6,1280 1431.6,1288 1423.6,1288 1418,1263.6ZM1423.6,1280 1431.6,1280 1438.6,1297.7 1438.6,1305.7 1430.6,1305.7 1423.6,1288ZM1430.6,1297.7 1438.6,1297.7 1447,1313.5 1447,1321.5 1439,1321.5 1430.6,1305.7ZM1439,1313.5 1447,1313.5 1458,1327.5 1458,1335.5 1450,1335.5 1439,1321.5ZM1450,1327.5 1458,1327.5 1472,1332.7 1472,1340.7 1464,1340.7 1450,1335.5ZM1464,1332.7 1472,1332.7 1489.4,1337 1489.4,1345 1481.4,1345 1464,1340.7ZM1481.4,1337 1497,1333.4 1505,1333.4 1505,1341.4 1489.4,1345 1481.4,1345ZM1497,1333.4 1505,1333.4 1521,1336 1521,1344 1513,1344 1497,1341.4ZM1513,1336 1521.8,1327.5 1529.8,1327.5 1529.8,1335.5 1521,1344 1513,1344ZM1521.8,1327.5 1529.8,1327.5 1538.5,1329 1538.5,1337 1530.5,1337 1521.8,1335.5ZM1530.5,1329 1538.5,1329 1552.6,1334.5 1552.6,1342.5 1544.6,1342.5 1530.5,1337ZM1544.6,1334.5 1562,1332.7 1570,1332.7 1570,1340.7 1552.6,1342.5 1544.6,1342.5ZM1562,1332.7 1579.6,1331 1587.6,1331 1587.6,1339 1570,1340.7 1562,1340.7ZM1579.6,1331 1586.6,1327.5 1594.6,1327.5 1594.6,1335.5 1587.6,1339 1579.6,1339ZM1586.6,1327.5 1604,1326.4 1612,1326.4 1612,1334.4 1594.6,1335.5 1586.6,1335.5ZM1604,1326.4 1614,1324 1622,1324 1622,1332 1612,1334.4 1604,1334.4Z" fill="#008000"/>
<path d="M137,1402 148,1402 148,1410 137,1410ZM140,1402 157.5,1401 165.5,1401 165.5,1409 148,1410 140,1410ZM157.5,1401 164.6,1391.6 172.6,1391.6 172.6,1399.6 165.5,1409 157.5,1409ZM164.6,1391.6 182,1389 190,1389 190,1397 172.6,1399.6 164.6,1399.6ZM182,1389 194.4,1382.5 202.4,1382.5 202.4,1390.5 190,1397 182,1397ZM194.4,1382.5 212,1381.8 220,1381.8 220,1389.8 202.4,1390.5 194.4,1390.5ZM212,1381.8 220.7,1370.6 228.7,1370.6 228.7,1378.6 220,1389.8 212,1389.8ZM220.7,1370.6 231,1367 239,1367 239,1375 228.7,1378.6 220.7,1378.6ZM231,1367 241.7,1360.8 249.7,1360.8 249.7,1368.8 239,1375 231,1375ZM241.7,1360.8 255.7,1356.6 263.7,1356.6 263.7,1364.6 249.7,1368.8 241.7,1368.8ZM255.7,1356.6 264.5,1346 272.5,1346 272.5,1354 263.7,1364.6 255.7,1364.6ZM264.5,1346 280,1339.7 288,1339.7 288,1347.7 272.5,1354 264.5,1354ZM280,1339.7 294,1324 302,1324 302,1332 288,1347.7 280,1347.7ZM294,1324 315,1311.7 323,1311.7 323,1319.7 302,1332 294,1332ZM315,1311.7 327.6,1298.4 335.6,1298.4 335.6,1306.4 323,1319.7 315,1319.7ZM327.6,1298.4 347,1285.4 355,1285.4 355,1293.4 335.6,1306.4 327.6,1306.4ZM347,1285.4 364.4,1280 372.4,1280 372.4,1288 355,1293.4 347,1293.4ZM364.4,1280 371.4,1257 379.4,1257 379.4,1265 372.4,1288 364.4,1288ZM371.4,1257 382,1250 390,1250 390,1258 379.4,1265 371.4,1265ZM382,1250 394.5,1239.5 402.5,1239.5 402.5,1247.5 390,1258 382,1258ZM394.5,1239.5 399.3,1222 407.3,1222 407.3,1230 402.5,1247.5 394.5,1247.5ZM399.3,1222 404.6,1204.4 412.6,1204.4 412.6,1212.4 407.3,1230 399.3,1230ZM404.6,1204.4 413.5,1186.9 421.5,1186.9 421.5,1194.9 412.6,1212.4 404.6,1212.4ZM413.5,1186.9 424.2,1172.4 432.2,1172.4 432.2,1180.4 421.5,1194.9 413.5,1194.9ZM424.2,1172.4 432.5,1153.1 440.5,1153.1 440.5,1161.1 432.2,1180.4 424.2,1180.4ZM432.5,1153.1 438.8,1133.8 446.8,1133.8 446.8,1141.8 440.5,1161.1 432.5,1161.1ZM438.8,1133.8 444.7,1114.6 452.7,1114.6 452.7,1122.6 446.8,1141.8 438.8,1141.8ZM444.7,1114.6 450,1104 458,1104 458,1112 452.7,1122.6 444.7,1122.6ZM450,1104 454.4,1101.1 462.4,1101.1 462.4,1109.1 458,1112 450,1112ZM454.4,1101.1 462.4,1101.1 467.5,1104 467.5,1112 459.5,1112 454.4,1109.1ZM459.5,1104 467.5,1104 481,1118.8 481,1126.8 473,1126.8 459.5,1112ZM473,1118.8 481,1118.8 490,1124 490,1132 482,1132 473,1126.8ZM482,1124 490,1119.4 498,1119.4 498,1127.4 490,1132 482,1132ZM490,1119.4 501,1104.5 509,1104.5 509,1112.5 498,1127.4 490,1127.4ZM501,1104.5 510,1088.5 518,1088.5 518,1096.5 509,1112.5 501,1112.5ZM510,1088.5 514.9,1073.6 522.9,1073.6 522.9,1081.6 518,1096.5 510,1096.5ZM514.9,1073.6 518.9,1060.7 526.9,1060.7 526.9,1068.7 522.9,1081.6 514.9,1081.6ZM518.9,1060.7 525.8,1048.7 533.8,1048.7 533.8,1056.7 526.9,1068.7 518.9,1068.7ZM525.8,1048.7 531.8,1039.7 539.8,1039.7 539.8,1047.7 533.8,1056.7 525.8,1056.7ZM531.8,1039.7 539.8,1032.8 547.8,1032.8 547.8,1040.8 539.8,1047.7 531.8,1047.7ZM539.8,1032.8 547.8,1026.8 555.8,1026.8 555.8,1034.8 547.8,1040.8 539.8,1040.8ZM547.8,1026.8 555.7,1022.3 563.7,1022.3 563.7,1030.3 555.8,1034.8 547.8,1034.8ZM555.7,1022.3 560.7,1019.8 568.7,1019.8 568.7,1027.8 563.7,1030.3 555.7,1030.3ZM560.7,1019.8 565.7,1011.9 573.7,1011.9 573.7,1019.9 568.7,1027.8 560.7,1027.8ZM565.7,1011.9 570.7,1002.9 578.7,1002.9 578.7,1010.9 573.7,1019.9 565.7,1019.9ZM570.7,1002.9 575.6,995.9 583.6,995.9 583.6,1003.9 578.7,1010.9 570.7,1010.9ZM575.6,995.9 577.6,994.9 585.6,994.9 585.6,1002.9 583.6,1003.9 575.6,1003.9ZM577.6,994.9 585.6,994.9 589.6,998.9 589.6,1006.9 581.6,1006.9 577.6,1002.9ZM581.6,998.9 589.6,998.9 593.6,1005.9 593.6,1013.9 585.6,1013.9 581.6,1006.9ZM585.6,1005.9 593.6,1005.9 596.6,1017.8 596.6,1025.8 588.6,1025.8 585.6,1013.9ZM588.6,1017.8 596.6,1017.8 599.6,1031.8 599.6,1039.8 591.6,1039.8 588.6,1025.8ZM591.6,1031.8 599.6,1031.8 602.6,1045.7 602.6,1053.7 594.6,1053.7 591.6,1039.8ZM594.6,1045.7 602.6,1045.7 605.6,1060.7 605.6,1068.7 597.6,1068.7 594.6,1053.7ZM597.6,1060.7 605.6,1060.7 608.5,1075.6 608.5,1083.6 600.5,1083.6 597.6,1068.7ZM600.5,1075.6 608.5,1075.6 611.5,1090.5 611.5,1098.5 603.5,1098.5 600.5,1083.6ZM603.5,1090.5 611.5,1090.5 614.5,1105.5 614.5,1113.5 606.5,1113.5 603.5,1098.5ZM606.5,1105.5 614.5,1105.5 618,1120.4 618,1128.4 610,1128.4 606.5,1113.5ZM610,1120.4 618,1120.4 622,1135.4 622,1143.4 614,1143.4 610,1128.4ZM614,1135.4 622,1135.4 624.5,1145.3 624.5,1153.3 616.5,1153.3 614,1143.4ZM616.5,1145.3 624.5,1145.3 630,1161 630,1169 622,1169 616.5,1153.3ZM622,1161 630,1161 637,1182 637,1190 629,1190 622,1169ZM629,1182 637,1182 647.8,1206.5 647.8,1214.5 639.8,1214.5 629,1190ZM639.8,1206.5 647.8,1206.5 658,1234.5 658,1242.5 650,1242.5 639.8,1214.5ZM650,1234.5 658,1234.5 668.8,1262.6 668.8,1270.6 660.8,1270.6 650,1242.5ZM660.8,1262.6 668.8,1262.6 679,1290.6 679,1298.6 671,1298.6 660.8,1270.6ZM671,1290.6 679,1290.6 684,1297.6 684,1305.6 676,1305.6 671,1298.6ZM676,1297.6 684,1297.6 692,1316.7 692,1324.7 684,1324.7 676,1305.6ZM684,1316.7 692,1316.7 701.5,1329.4 701.5,1337.4 693.5,1337.4 684,1324.7ZM693.5,1329.4 701.5,1329.4 711,1339 711,1347 703,1347 693.5,1337.4ZM703,1339 711,1339 723.8,1346.2 723.8,1354.2 715.8,1354.2 703,1347ZM715.8,1346.2 723.8,1346.2 736.6,1352.5 736.6,1360.5 728.6,1360.5 715.8,1354.2ZM728.6,1352.5 736.6,1352.5 747.7,1358.9 747.7,1366.9 739.7,1366.9 728.6,1360.5ZM739.7,1358.9 747.7,1358.9 758.9,1362.9 758.9,1370.9 750.9,1370.9 739.7,1366.9ZM750.9,1362.9 758.9,1362.9 768.5,1366.9 768.5,1374.9 760.5,1374.9 750.9,1370.9ZM760.5,1366.9 768.5,1366.9 776.4,1374 776.4,1382 768.4,1382 760.5,1374.9ZM768.4,1374 776.4,1374 786,1380.4 786,1388.4 778,1388.4 768.4,1382ZM778,1380.4 786,1380.4 798.7,1382.3 798.7,1390.3 790.7,1390.3 778,1388.4ZM790.7,1382.3 811.5,1382.3 811.5,1390.3 790.7,1390.3ZM803.5,1382.3 824.2,1382.3 824.2,1390.3 803.5,1390.3ZM816.2,1382.3 824.2,1382.3 830.6,1384.4 830.6,1392.4 822.6,1392.4 816.2,1390.3ZM822.6,1384.4 825.8,1382.8 833.8,1382.8 833.8,1390.8 830.6,1392.4 822.6,1392.4ZM825.8,1382.8 833.8,1374 841.8,1374 841.8,1382 833.8,1390.8 825.8,1390.8ZM833.8,1374 841.7,1361.3 849.7,1361.3 849.7,1369.3 841.8,1382 833.8,1382ZM841.7,1361.3 849.7,1353.3 857.7,1353.3 857.7,1361.3 849.7,1369.3 841.7,1369.3ZM849.7,1353.3 856,1337.4 864,1337.4 864,1345.4 857.7,1361.3 849.7,1361.3ZM856,1337.4 861.7,1321.5 869.7,1321.5 869.7,1329.5 864,1345.4 856,1345.4ZM861.7,1321.5 868,1307 876,1307 876,1315 869.7,1329.5 861.7,1329.5ZM868,1307 872.8,1294.4 880.8,1294.4 880.8,1302.4 876,1315 868,1315ZM872.8,1294.4 876,1275.2 884,1275.2 884,1283.2 880.8,1302.4 872.8,1302.4ZM876,1275.2 879.2,1260.9 887.2,1260.9 887.2,1268.9 884,1283.2 876,1283.2ZM879.2,1260.9 884.8,1243.4 892.8,1243.4 892.8,1251.4 887.2,1268.9 879.2,1268.9ZM884.8,1243.4 890.3,1229 898.3,1229 898.3,1237 892.8,1251.4 884.8,1251.4ZM890.3,1229 896.7,1216.3 904.7,1216.3 904.7,1224.3 898.3,1237 890.3,1237ZM896.7,1216.3 901.5,1209.5 909.5,1209.5 909.5,1217.5 904.7,1224.3 896.7,1224.3ZM901.5,1209.5 905.5,1206.7 913.5,1206.7 913.5,1214.7 909.5,1217.5 901.5,1217.5ZM905.5,1206.7 913.5,1206.7 917.5,1209.5 917.5,1217.5 909.5,1217.5 905.5,1214.7ZM909.5,1209.5 917.5,1209.5 921.5,1214.7 921.5,1222.7 913.5,1222.7 909.5,1217.5ZM913.5,1214.7 921.5,1214.7 927.8,1229 927.8,1237 919.8,1237 913.5,1222.7ZM919.8,1229 927.8,1229 932.6,1246.6 932.6,1254.6 924.6,1254.6 919.8,1237ZM924.6,1246.6 932.6,1246.6 936.6,1264 936.6,1272 928.6,1272 924.6,1254.6ZM928.6,1264 936.6,1264 941.4,1278.4 941.4,1286.4 933.4,1286.4 928.6,1272ZM933.4,1278.4 941.4,1278.4 948.5,1292.8 948.5,1300.8 940.5,1300.8 933.4,1286.4ZM940.5,1292.8 948.5,1292.8 956.5,1308.7 956.5,1316.7 948.5,1316.7 940.5,1300.8ZM948.5,1308.7 956.5,1308.7 964.5,1323 964.5,1331 956.5,1331 948.5,1316.7ZM956.5,1323 964.5,1323 972.4,1332.6 972.4,1340.6 964.4,1340.6 956.5,1331ZM964.4,1332.6 972.4,1332.6 983.6,1340.6 983.6,1348.6 975.6,1348.6 964.4,1340.6ZM975.6,1340.6 983.6,1340.6 994.8,1347.8 994.8,1355.8 986.8,1355.8 975.6,1348.6ZM986.8,1347.8 994.8,1347.8 1004,1350 1004,1358 996,1358 986.8,1355.8ZM996,1350 1004,1350 1014,1354.5 1014,1362.5 1006,1362.5 996,1358ZM1006,1354.5 1031.8,1354.5 1031.8,1362.5 1006,1362.5ZM1023.8,1354.5 1049,1354.5 1049,1362.5 1023.8,1362.5ZM1041,1354.5 1058.8,1351 1066.8,1351 1066.8,1359 1049,1362.5 1041,1362.5ZM1058.8,1351 1080.9,1351 1080.9,1359 1058.8,1359ZM1072.9,1351 1080.9,1351 1093,1353 1093,1361 1085,1361 1072.9,1359ZM1085,1353 1094,1338 1102,1338 1102,1346 1093,1361 1085,1361ZM1094,1338 1108,1329 1116,1329 1116,1337 1102,1346 1094,1346ZM1108,1329 1118.5,1317 1126.5,1317 1126.5,1325 1116,1337 1108,1337ZM1118.5,1317 1127,1294 1135,1294 1135,1302 1126.5,1325 1118.5,1325ZM1127,1294 1136,1262.6 1144,1262.6 1144,1270.6 1135,1302 1127,1302ZM1136,1262.6 1143,1220.5 1151,1220.5 1151,1228.5 1144,1270.6 1136,1270.6ZM1143,1220.5 1150,1164.4 1158,1164.4 1158,1172.4 1151,1228.5 1143,1228.5ZM1150,1164.4 1155,1101 1163,1101 1163,1109 1158,1172.4 1150,1172.4ZM1155,1101 1160.5,1017 1168.5,1017 1168.5,1025 1163,1109 1155,1109ZM1160.5,1017 1164,954 1172,954 1172,962 1168.5,1025 1160.5,1025ZM1164,954 1167,896 1175,896 1175,904 1172,962 1164,962ZM1167,896 1171,823 1179,823 1179,831 1175,904 1167,904ZM1171,823 1179,823 1183,876 1183,884 1175,884 1171,831ZM1175,876 1183,876 1186.5,926 1186.5,934 1178.5,934 1175,884ZM1178.5,926 1186.5,926 1189.6,978.6 1189.6,986.6 1181.6,986.6 1178.5,934ZM1181.6,978.6 1189.6,978.6 1193,1048.7 1193,1056.7 1185,1056.7 1181.6,986.6ZM1185,1048.7 1193,1048.7 1198,1118.8 1198,1126.8 1190,1126.8 1185,1056.7ZM1190,1118.8 1198,1118.8 1203.6,1171.5 1203.6,1179.5 1195.6,1179.5 1190,1126.8ZM1195.6,1171.5 1203.6,1171.5 1210.6,1224 1210.6,1232 1202.6,1232 1195.6,1179.5ZM1202.6,1224 1210.6,1224 1219,1255.6 1219,1263.6 1211,1263.6 1202.6,1232ZM1211,1255.6 1219,1255.6 1230,1276.6 1230,1284.6 1222,1284.6 1211,1263.6ZM1222,1276.6 1230,1276.6 1242,1287 1242,1295 1234,1295 1222,1284.6ZM1234,1287 1242,1287 1244,1289 1244,1297 1236,1297 1234,1295ZM1236,1289 1244,1289 1261.5,1292.4 1261.5,1300.4 1253.5,1300.4 1236,1297ZM1253.5,1292.4 1271,1290.7 1279,1290.7 1279,1298.7 1261.5,1300.4 1253.5,1300.4ZM1271,1290.7 1288.6,1290 1296.6,1290 1296.6,1298 1279,1298.7 1271,1298.7ZM1288.6,1290 1301,1280 1309,1280 1309,1288 1296.6,1298 1288.6,1298ZM1301,1280 1311.8,1266 1319.8,1266 1319.8,1274 1309,1288 1301,1288ZM1311.8,1266 1321.3,1243 1329.3,1243 1329.3,1251 1319.8,1274 1311.8,1274ZM1321.3,1243 1329.4,1204.6 1337.4,1204.6 1337.4,1212.6 1329.3,1251 1321.3,1251ZM1329.4,1204.6 1334.2,1153 1342.2,1153 1342.2,1161 1337.4,1212.6 1329.4,1212.6ZM1334.2,1153 1339.5,1108 1347.5,1108 1347.5,1116 1342.2,1161 1334.2,1161ZM1339.5,1108 1341.3,1094.6 1349.3,1094.6 1349.3,1102.6 1347.5,1116 1339.5,1116ZM1341.3,1094.6 1343.6,1068.9 1351.6,1068.9 1351.6,1076.9 1349.3,1102.6 1341.3,1102.6ZM1343.6,1068.9 1348.7,1030.3 1356.7,1030.3 1356.7,1038.3 1351.6,1076.9 1343.6,1076.9ZM1348.7,1030.3 1352.8,991.7 1360.8,991.7 1360.8,999.7 1356.7,1038.3 1348.7,1038.3ZM1352.8,991.7 1356,953.1 1364,953.1 1364,961.1 1360.8,999.7 1352.8,999.7ZM1356,953.1 1359.4,914.6 1367.4,914.6 1367.4,922.6 1364,961.1 1356,961.1ZM1359.4,914.6 1363.5,898 1371.5,898 1371.5,906 1367.4,922.6 1359.4,922.6ZM1363.5,898 1366.7,890 1374.7,890 1374.7,898 1371.5,906 1363.5,906ZM1366.7,890 1374.7,890 1378,898 1378,906 1370,906 1366.7,898ZM1370,898 1378,898 1381.4,914.6 1381.4,922.6 1373.4,922.6 1370,906ZM1373.4,914.6 1381.4,914.6 1385.9,953.1 1385.9,961.1 1377.9,961.1 1373.4,922.6ZM1377.9,953.1 1385.9,953.1 1390.4,991.7 1390.4,999.7 1382.4,999.7 1377.9,961.1ZM1382.4,991.7 1390.4,991.7 1395.6,1030.3 1395.6,1038.3 1387.6,1038.3 1382.4,999.7ZM1387.6,1030.3 1395.6,1030.3 1401.3,1068.9 1401.3,1076.9 1393.3,1076.9 1387.6,1038.3ZM1393.3,1068.9 1401.3,1068.9 1406.9,1094.6 1406.9,1102.6 1398.9,1102.6 1393.3,1076.9ZM1398.9,1094.6 1406.9,1094.6 1411,1116 1411,1124 1403,1124 1398.9,1102.6ZM1403,1116 1411,1116 1420.5,1169.2 1420.5,1177.2 1412.5,1177.2 1403,1124ZM1412.5,1169.2 1420.5,1169.2 1428.8,1207.2 1428.8,1215.2 1420.8,1215.2 1412.5,1177.2ZM1420.8,1207.2 1428.8,1207.2 1436,1229 1436,1237 1428,1237 1420.8,1215.2ZM1428,1229 1436,1229 1443.7,1245.2 1443.7,1253.2 1435.7,1253.2 1428,1237ZM1435.7,1245.2 1443.7,1245.2 1449,1252 1449,1260 1441,1260 1435.7,1253.2ZM1441,1252 1449,1252 1461.4,1260.8 1461.4,1268.8 1453.4,1268.8 1441,1260ZM1453.4,1260.8 1461.4,1260.8 1479,1269 1479,1277 1471,1277 1453.4,1268.8ZM1471,1269 1479,1269 1496.5,1271 1496.5,1279 1488.5,1279 1471,1277ZM1488.5,1271 1524.5,1271 1524.5,1279 1488.5,1279ZM1516.5,1271 1530.5,1264 1538.5,1264 1538.5,1272 1524.5,1279 1516.5,1279ZM1530.5,1264 1551.6,1255.6 1559.6,1255.6 1559.6,1263.6 1538.5,1272 1530.5,1272ZM1551.6,1255.6 1572.6,1248 1580.6,1248 1580.6,1256 1559.6,1263.6 1551.6,1263.6ZM1572.6,1248 1590,1241.6 1598,1241.6 1598,1249.6 1580.6,1256 1572.6,1256ZM1590,1241.6 1604,1235 1612,1235 1612,1243 1598,1249.6 1590,1249.6ZM1604,1235 1614,1232.8 1622,1232.8 1622,1240.8 1612,1243 1604,1243Z" fill="#0000ff"/>
<rect x="137" y="15" width="6" height="1472" fill="#000"/>
<rect x="137" y="1478" width="1483.5" height="8" fill="#000"/>
<rect x="135.5" y="45.3" width="2" height="2" fill="#000"/>
<rect x="135.5" y="191.0" width="2" height="2" fill="#000"/>
<rect x="135.5" y="336.7" width="2" height="2" fill="#000"/>
<rect x="135.5" y="482.5" width="2" height="2" fill="#000"/>
<rect x="135.5" y="628.2" width="2" height="2" fill="#000"/>
<rect x="135.5" y="773.9" width="2" height="2" fill="#000"/>
<rect x="135.5" y="919.6" width="2" height="2" fill="#000"/>
<rect x="135.5" y="1065.3" width="2" height="2" fill="#000"/>
<rect x="135.5" y="1211.1" width="2" height="2" fill="#000"/>
<rect x="135.5" y="1356.8" width="2" height="2" fill="#000"/>
<rect x="140.0" y="1485" width="2" height="3" fill="#000"/>
<rect x="633.5" y="1485" width="2" height="3" fill="#000"/>
<rect x="1126.7" y="1485" width="2" height="3" fill="#000"/>
<rect x="178.1" y="60" width="4.9" height="115" fill="#000"/>
<polygon points="180.6,43.7 195.1,71.8 166,71.8" fill="#000"/>
<polygon points="180.6,190.1 195.1,161 166,161" fill="#000"/>
<g transform="translate(196.21,128.73) scale(0.9471,0.9674)"><text x="0.00" y="0.00" font-size="60" font-family="DejaVu Sans, Liberation Sans, sans-serif" fill="#000">0.2</text></g>
<g transform="translate(1329.68,64.00) scale(0.8450,1.0265)"><text x="0.00" y="0.00" font-size="46" font-family="DejaVu Sans, Liberation Sans, sans-serif" fill="#000">1450</text></g>
<g transform="translate(549.35,343.20) scale(0.8505,1.0471)"><text x="0.00" y="0.00" font-size="46" font-family="DejaVu Sans, Liberation Sans, sans-serif" fill="#000">1610</text></g>
<g transform="translate(1329.26,879.30) scale(0.8486,1.0235)"><text x="0.00" y="0.00" font-size="46" font-family="DejaVu Sans, Liberation Sans, sans-serif" fill="#000">1450</text></g>
<g transform="translate(394.11,952.30) scale(0.8579,1.0088)"><text x="0.00" y="0.00" font-size="46" font-family="DejaVu Sans, Liberation Sans, sans-serif" fill="#000">1622</text></g>
<g transform="translate(565.03,919.00) scale(0.8541,1.0324)"><text x="0.00" y="0.00" font-size="46" font-family="DejaVu Sans, Liberation Sans, sans-serif" fill="#000">1610</text></g>
<g transform="translate(683.30,1153.00) scale(0.8602,1.0147)"><text x="0.00" y="0.00" font-size="46" font-family="DejaVu Sans, Liberation Sans, sans-serif" fill="#000">1597</text></g>
<g transform="translate(1218.20,987.30) scale(0.8407,0.9912)"><text x="0.00" y="0.00" font-size="46" font-family="DejaVu Sans, Liberation Sans, sans-serif" fill="#000">1451</text></g>
<g transform="translate(1447.65,1096.90) scale(0.8505,0.9676)"><text x="0.00" y="0.00" font-size="46" font-family="DejaVu Sans, Liberation Sans, sans-serif" fill="#000">1444</text></g>
<g transform="translate(669.72,241.02) scale(0.9961,0.9822)"><text x="0.00" y="0.00" font-size="61" font-family="Liberation Sans, Arimo, Arial, sans-serif" fill="#000">10Ni10Co/HZSM-5</text></g>
<g transform="translate(698.28,1064.51) scale(1.0071,0.9933)"><text x="0.00" y="0.00" font-size="61" font-family="Liberation Sans, Arimo, Arial, sans-serif" fill="#000">21Ni/HZSM-5</text></g>
<g transform="translate(1659.37,697.00) scale(1.0081,1.0000)"><text x="0.00" y="0.00" font-size="61" font-family="Liberation Sans, Arimo, Arial, sans-serif" fill="#00061a">pre-reduced</text></g>
<g transform="translate(1653.49,785.20) scale(1.0040,1.0182)"><text x="0.00" y="0.00" font-size="61" font-family="Liberation Sans, Arimo, Arial, sans-serif" fill="#ff0000">8 h used</text></g>
<g transform="translate(1657.98,1262.40) scale(1.0062,1.0000)"><text x="0.00" y="0.00" font-size="61" font-family="Liberation Sans, Arimo, Arial, sans-serif" fill="#0000ff">pre-reduced</text></g>
<g transform="translate(1653.49,1373.50) scale(1.0040,1.0159)"><text x="0.00" y="0.00" font-size="61" font-family="Liberation Sans, Arimo, Arial, sans-serif" fill="#008000">8 h used</text></g>
<g transform="translate(77.43,1574.60) scale(0.9937,1.0500)"><text x="0.00" y="0.00" font-size="61" font-family="Liberation Sans, Arimo, Arial, sans-serif" fill="#111">1700</text></g>
<g transform="translate(572.87,1578.30) scale(0.9859,1.0548)"><text x="0.00" y="0.00" font-size="61" font-family="Liberation Sans, Arimo, Arial, sans-serif" fill="#111">1600</text></g>
<g transform="translate(1056.05,1578.30) scale(0.9891,1.0548)"><text x="0.00" y="0.00" font-size="61" font-family="Liberation Sans, Arimo, Arial, sans-serif" fill="#111">1500</text></g>
<g transform="translate(62.60,939.60) scale(1.0091,1.0266)"><text transform="translate(0.00,0.00) rotate(-90)" font-size="61" font-family="Liberation Sans, Arimo, Arial, sans-serif" fill="#111">Absorbance</text></g>
<g transform="translate(586.40,1681.00) scale(1.0256,1)"><text font-size="60.5" font-family="Liberation Sans, Arimo, Arial, sans-serif" fill="#111"><tspan x="0" y="0">Wavenumbers</tspan> <tspan x="401.01" y="0">(cm</tspan><tspan x="500.71" y="-19.00" font-size="42">-1</tspan><tspan x="539.73" y="0">)</tspan></text></g>
</svg>
</body></html>
